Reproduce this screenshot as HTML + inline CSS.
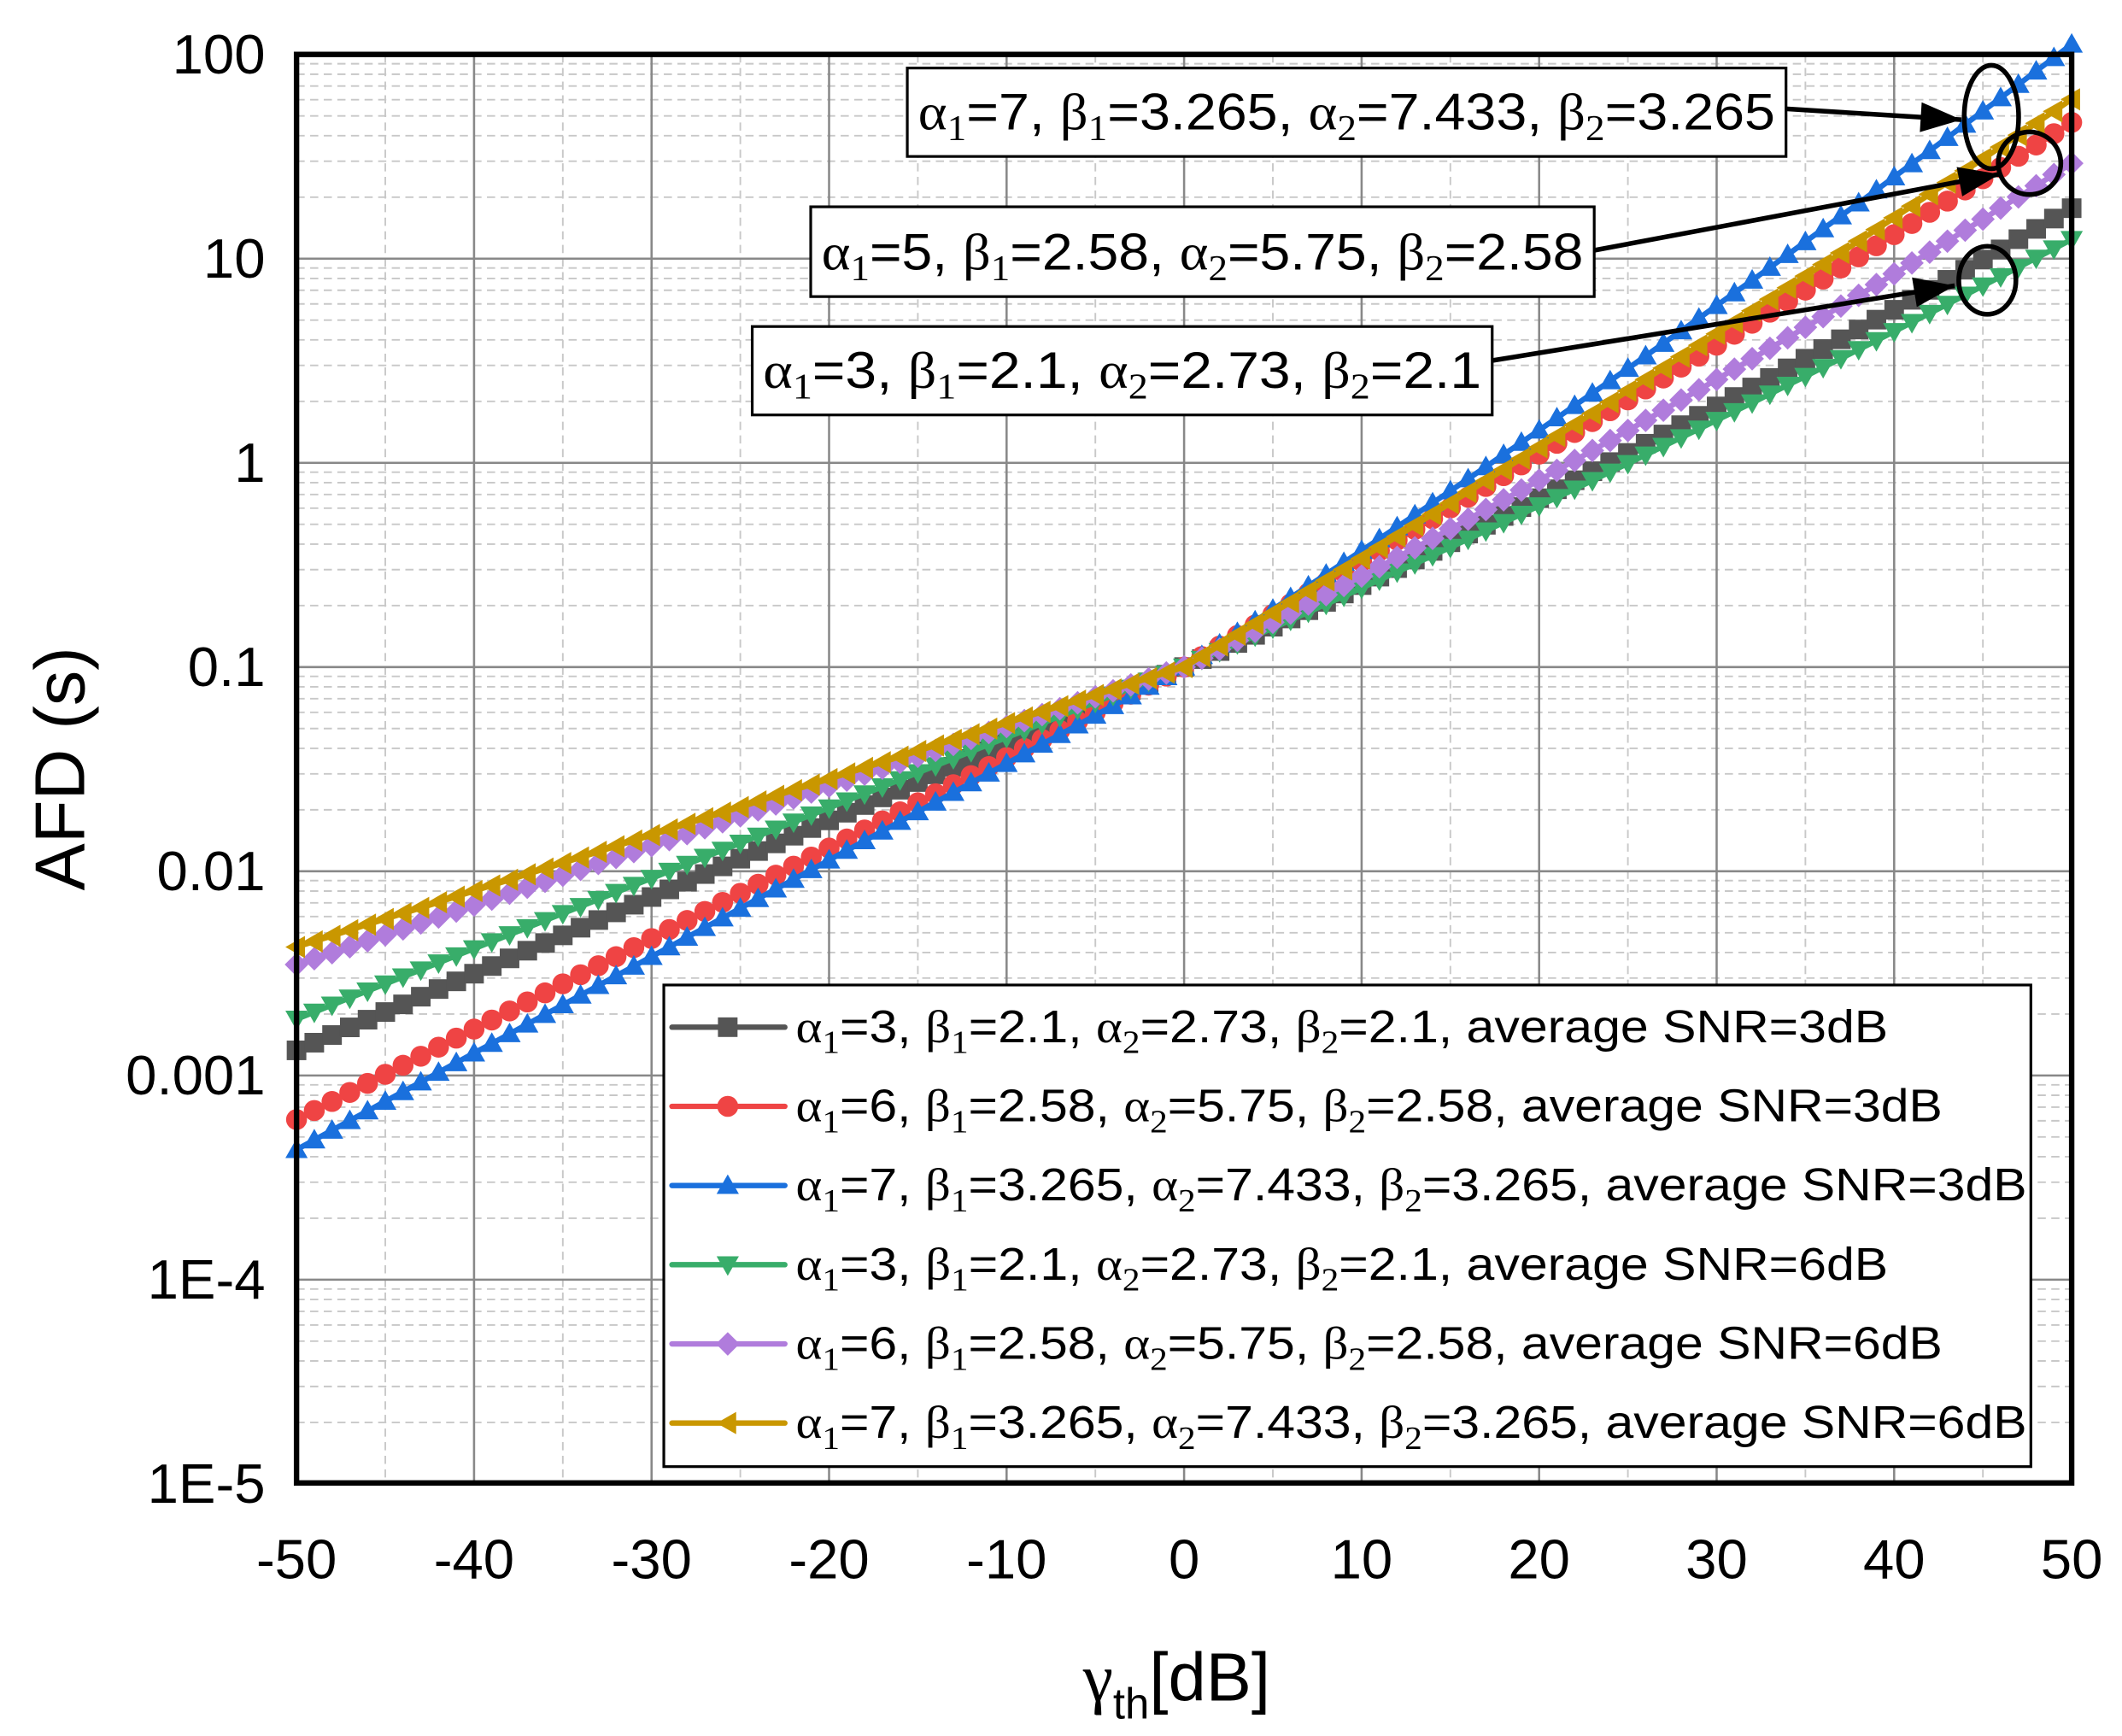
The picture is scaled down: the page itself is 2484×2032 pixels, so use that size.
<!DOCTYPE html>
<html><head><meta charset="utf-8"><style>
html,body{margin:0;padding:0;background:#fff;}
svg{display:block;}
text{font-family:"Liberation Sans",Arial,sans-serif;fill:#000;}
.g{font-family:"Liberation Serif",serif;}
</style></head><body>
<svg id="s" xmlns="http://www.w3.org/2000/svg" width="2484" height="2032" viewBox="0 0 1560 1276" preserveAspectRatio="none">
<rect width="1560" height="1276" fill="#fff"/>
<g id="grid"></g>
<g id="series"></g>
<rect x="218" y="40" width="1305" height="1050" fill="none" stroke="#000" stroke-width="4"/>
<g id="ticks" font-size="41"></g>
<text x="865" y="1250" font-size="50" text-anchor="middle"><tspan class="g">γ</tspan><tspan font-size="32" dy="13">th</tspan><tspan dy="-13">[dB]</tspan></text>
<text transform="translate(62,565) rotate(-90)" font-size="52" text-anchor="middle">AFD (s)</text>
<g id="legend"></g>
<g id="ann" stroke="#000" fill="none"></g>
</svg>
<script>
const NS="http://www.w3.org/2000/svg";
function el(t,a,p){const e=document.createElementNS(NS,t);for(const k in a)e.setAttribute(k,a[k]);p.appendChild(e);return e;}
const X=v=>218+(v+50)*13.05, Y=l=>40+(2-l)*150.1;
const grid=document.getElementById('grid');
for(let v=-45;v<50;v+=10) el('line',{x1:X(v),x2:X(v),y1:40,y2:1090,stroke:'#c8c8c8','stroke-width':1.2,'stroke-dasharray':'6 4'},grid);
for(let d=-5;d<2;d++)for(let m=2;m<10;m++){const y=Y(d+Math.log10(m));el('line',{x1:218,x2:1523,y1:y,y2:y,stroke:'#c8c8c8','stroke-width':1.2,'stroke-dasharray':'6 4'},grid);}
for(let v=-40;v<50;v+=10) el('line',{x1:X(v),x2:X(v),y1:40,y2:1090,stroke:'#888','stroke-width':1.6},grid);
for(let d=-4;d<2;d++) el('line',{x1:218,x2:1523,y1:Y(d),y2:Y(d),stroke:'#888','stroke-width':1.6},grid);
const tk=document.getElementById('ticks');
const yl=['1E-5','1E-4','0.001','0.01','0.1','1','10','100'];
yl.forEach((s,i)=>{const t=el('text',{x:195,y:Y(i-5)+14,'text-anchor':'end'},tk);t.textContent=s;});
for(let v=-50;v<=50;v+=10){const t=el('text',{x:X(v),y:1160,'text-anchor':'middle'},tk);t.textContent=v;}
const S=[
 {c:'#555555',m:'sq',a:-2.877,b:1.247,k:0.00012},
 {c:'#ef4444',m:'ci',a:-3.216,b:1.667,k:0.00004},
 {c:'#1a70dd',m:'tu',a:-3.363,b:2.05,k:0.00010},
 {c:'#38ad6a',m:'td',a:-2.724,b:1.094,k:0.00008},
 {c:'#b07cdc',m:'di',a:-2.457,b:1.467,k:0.00012},
 {c:'#c99700',m:'tl',a:-2.371,b:1.78,k:0.00006}];
function mk(m,x,y,c,p){const r=7.2;
 if(m=='sq')el('rect',{x:x-r,y:y-r,width:2*r,height:2*r,fill:c},p);
 else if(m=='ci')el('circle',{cx:x,cy:y,r:r+0.5,fill:c},p);
 else{let pts;
  if(m=='tu')pts=[[x,y-r-1],[x-r-1,y+r-1],[x+r+1,y+r-1]];
  if(m=='td')pts=[[x,y+r+1],[x-r-1,y-r+1],[x+r+1,y-r+1]];
  if(m=='tl')pts=[[x-r-1,y],[x+r-1,y-r-1],[x+r-1,y+r+1]];
  if(m=='di')pts=[[x,y-r-1.5],[x+r+1.5,y],[x,y+r+1.5],[x-r-1.5,y]];
  el('polygon',{points:pts.map(q=>q.join(',')).join(' '),fill:c},p);}
}
const sg=document.getElementById('series');
S.forEach(s=>{let d='';const pts=[];
 for(let v=-50;v<=50;v++){let l;
  if(v<=0) l=-1+(-1-s.a)/50*v;
  else l=-1+(s.b+1)/50*v + s.k*v*(v-50);
  const x=X(v),y=Y(l);pts.push([x,y]);d+=(v==-50?'M':'L')+x.toFixed(1)+','+y.toFixed(1);}
 el('path',{d:d,stroke:s.c,'stroke-width':4,fill:'none'},sg);
 pts.forEach(q=>mk(s.m,q[0],q[1],s.c,sg));});
const lg=document.getElementById('legend');
el('rect',{x:488,y:724,width:1005,height:354,fill:'#fff',stroke:'#000','stroke-width':2},lg);
const lab=[['3','2.1','2.73','2.1','3',1388],['6','2.58','5.75','2.58','3',1428],['7','3.265','7.433','3.265','3',1490],['3','2.1','2.73','2.1','6',1388],['6','2.58','5.75','2.58','6',1428],['7','3.265','7.433','3.265','6',1490]];
function para(t,a){return `<tspan class="g">α</tspan><tspan class="g" font-size="0.7em" dy="8">1</tspan><tspan dy="-8">=${a[0]}, </tspan><tspan class="g">β</tspan><tspan class="g" font-size="0.7em" dy="8">1</tspan><tspan dy="-8">=${a[1]}, </tspan><tspan class="g">α</tspan><tspan class="g" font-size="0.7em" dy="8">2</tspan><tspan dy="-8">=${a[2]}, </tspan><tspan class="g">β</tspan><tspan class="g" font-size="0.7em" dy="8">2</tspan><tspan dy="-8">=${a[3]}</tspan>`;}
S.forEach((s,i)=>{const y=755+i*58.2;
 el('line',{x1:494,x2:577,y1:y,y2:y,stroke:s.c,'stroke-width':4,'stroke-linecap':'round'},lg);
 mk(s.m,535,y,s.c,lg);
 const a=lab[i];const t=el('text',{x:585,y:y+11,'font-size':34,textLength:a[5]-585,lengthAdjust:'spacingAndGlyphs'},lg);
 t.innerHTML=para(t,a)+`<tspan>, average SNR=${a[4]}dB</tspan>`;});
const an=document.getElementById('ann');
const boxes=[[667,50,1313,115,['7','3.265','7.433','3.265']],[596,152,1172,218,['5','2.58','5.75','2.58']],[553,240,1097,305,['3','2.1','2.73','2.1']]];
boxes.forEach(b=>{el('rect',{x:b[0],y:b[1],width:b[2]-b[0],height:b[3]-b[1],fill:'#fff',stroke:'#000','stroke-width':2},an);
 const t=el('text',{x:b[0]+8,y:b[3]-20,'font-size':38,stroke:'none',fill:'#000',textLength:b[2]-b[0]-16,lengthAdjust:'spacingAndGlyphs'},an);t.innerHTML=para(t,b[4]);});
function arrow(x1,y1,x2,y2){el('line',{x1,y1,x2,y2,stroke:'#000','stroke-width':3.5},an);
 const a=Math.atan2(y2-y1,x2-x1),L=30,W=11;const bx=x2-L*Math.cos(a),by=y2-L*Math.sin(a);
 el('polygon',{points:`${x2},${y2} ${bx+W*Math.sin(a)},${by-W*Math.cos(a)} ${bx-W*Math.sin(a)},${by+W*Math.cos(a)}`,fill:'#000',stroke:'none'},an);}
arrow(1313,80,1442,88);arrow(1172,184,1470,128);arrow(1097,265,1437,210);
el('ellipse',{cx:1464,cy:86,rx:20,ry:38,'stroke-width':3.5},an);
el('ellipse',{cx:1492,cy:120,rx:23,ry:23,'stroke-width':3.5},an);
el('ellipse',{cx:1461,cy:206,rx:21,ry:25,'stroke-width':3.5},an);
</script>
</body></html>
